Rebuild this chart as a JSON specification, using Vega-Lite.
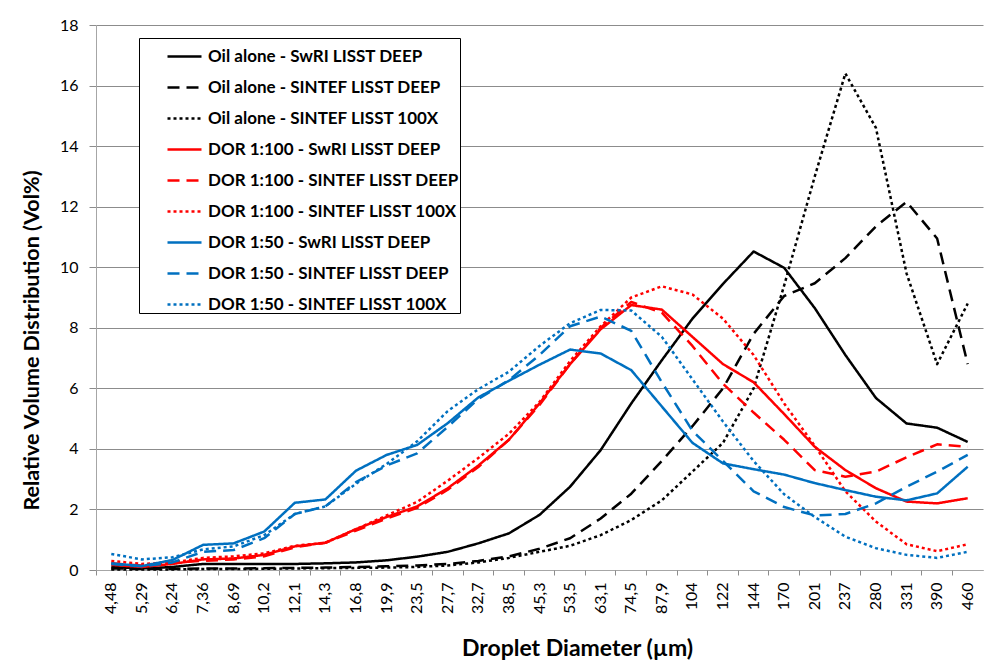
{
 "$schema": "https://vega.github.io/schema/vega-lite/v6.json",
 "width": 887,
 "height": 545,
 "autosize": {"type": "none"},
 "padding": {"left": 96, "top": 25, "right": 25, "bottom": 94},
 "background": "white",
 "config": {"font": "Lato", "view": {"stroke": null}},
 "data": {"values": [
  {"d":"4,48","Oil alone - SwRI LISST DEEP":0.1,"Oil alone - SINTEF LISST DEEP":0.05,"Oil alone - SINTEF LISST 100X":0.02,"DOR 1:100 - SwRI LISST DEEP":0.17,"DOR 1:100 - SINTEF LISST DEEP":0.22,"DOR 1:100 - SINTEF LISST 100X":0.3,"DOR 1:50 - SwRI LISST DEEP":0.22,"DOR 1:50 - SINTEF LISST DEEP":0.2,"DOR 1:50 - SINTEF LISST 100X":0.53},
  {"d":"5,29","Oil alone - SwRI LISST DEEP":0.05,"Oil alone - SINTEF LISST DEEP":0.04,"Oil alone - SINTEF LISST 100X":0.02,"DOR 1:100 - SwRI LISST DEEP":0.1,"DOR 1:100 - SINTEF LISST DEEP":0.15,"DOR 1:100 - SINTEF LISST 100X":0.2,"DOR 1:50 - SwRI LISST DEEP":0.13,"DOR 1:50 - SINTEF LISST DEEP":0.12,"DOR 1:50 - SINTEF LISST 100X":0.35},
  {"d":"6,24","Oil alone - SwRI LISST DEEP":0.1,"Oil alone - SINTEF LISST DEEP":0.04,"Oil alone - SINTEF LISST 100X":0.02,"DOR 1:100 - SwRI LISST DEEP":0.2,"DOR 1:100 - SINTEF LISST DEEP":0.25,"DOR 1:100 - SINTEF LISST 100X":0.25,"DOR 1:50 - SwRI LISST DEEP":0.33,"DOR 1:50 - SINTEF LISST DEEP":0.25,"DOR 1:50 - SINTEF LISST 100X":0.42},
  {"d":"7,36","Oil alone - SwRI LISST DEEP":0.2,"Oil alone - SINTEF LISST DEEP":0.05,"Oil alone - SINTEF LISST 100X":0.03,"DOR 1:100 - SwRI LISST DEEP":0.35,"DOR 1:100 - SINTEF LISST DEEP":0.3,"DOR 1:100 - SINTEF LISST 100X":0.4,"DOR 1:50 - SwRI LISST DEEP":0.83,"DOR 1:50 - SINTEF LISST DEEP":0.6,"DOR 1:50 - SINTEF LISST 100X":0.68},
  {"d":"8,69","Oil alone - SwRI LISST DEEP":0.2,"Oil alone - SINTEF LISST DEEP":0.05,"Oil alone - SINTEF LISST 100X":0.03,"DOR 1:100 - SwRI LISST DEEP":0.38,"DOR 1:100 - SINTEF LISST DEEP":0.35,"DOR 1:100 - SINTEF LISST 100X":0.45,"DOR 1:50 - SwRI LISST DEEP":0.88,"DOR 1:50 - SINTEF LISST DEEP":0.66,"DOR 1:50 - SINTEF LISST 100X":0.78},
  {"d":"10,2","Oil alone - SwRI LISST DEEP":0.2,"Oil alone - SINTEF LISST DEEP":0.06,"Oil alone - SINTEF LISST 100X":0.04,"DOR 1:100 - SwRI LISST DEEP":0.5,"DOR 1:100 - SINTEF LISST DEEP":0.45,"DOR 1:100 - SINTEF LISST 100X":0.55,"DOR 1:50 - SwRI LISST DEEP":1.27,"DOR 1:50 - SINTEF LISST DEEP":1.05,"DOR 1:50 - SINTEF LISST 100X":1.15},
  {"d":"12,1","Oil alone - SwRI LISST DEEP":0.2,"Oil alone - SINTEF LISST DEEP":0.07,"Oil alone - SINTEF LISST 100X":0.05,"DOR 1:100 - SwRI LISST DEEP":0.78,"DOR 1:100 - SINTEF LISST DEEP":0.75,"DOR 1:100 - SINTEF LISST 100X":0.8,"DOR 1:50 - SwRI LISST DEEP":2.22,"DOR 1:50 - SINTEF LISST DEEP":1.85,"DOR 1:50 - SINTEF LISST 100X":1.85},
  {"d":"14,3","Oil alone - SwRI LISST DEEP":0.22,"Oil alone - SINTEF LISST DEEP":0.08,"Oil alone - SINTEF LISST 100X":0.06,"DOR 1:100 - SwRI LISST DEEP":0.9,"DOR 1:100 - SINTEF LISST DEEP":0.9,"DOR 1:100 - SINTEF LISST 100X":0.9,"DOR 1:50 - SwRI LISST DEEP":2.33,"DOR 1:50 - SINTEF LISST DEEP":2.1,"DOR 1:50 - SINTEF LISST 100X":2.1},
  {"d":"16,8","Oil alone - SwRI LISST DEEP":0.25,"Oil alone - SINTEF LISST DEEP":0.1,"Oil alone - SINTEF LISST 100X":0.07,"DOR 1:100 - SwRI LISST DEEP":1.35,"DOR 1:100 - SINTEF LISST DEEP":1.3,"DOR 1:100 - SINTEF LISST 100X":1.35,"DOR 1:50 - SwRI LISST DEEP":3.28,"DOR 1:50 - SINTEF LISST DEEP":2.9,"DOR 1:50 - SINTEF LISST 100X":2.85},
  {"d":"19,9","Oil alone - SwRI LISST DEEP":0.32,"Oil alone - SINTEF LISST DEEP":0.12,"Oil alone - SINTEF LISST 100X":0.08,"DOR 1:100 - SwRI LISST DEEP":1.75,"DOR 1:100 - SINTEF LISST DEEP":1.7,"DOR 1:100 - SINTEF LISST 100X":1.8,"DOR 1:50 - SwRI LISST DEEP":3.8,"DOR 1:50 - SINTEF LISST DEEP":3.45,"DOR 1:50 - SINTEF LISST 100X":3.5},
  {"d":"23,5","Oil alone - SwRI LISST DEEP":0.44,"Oil alone - SINTEF LISST DEEP":0.15,"Oil alone - SINTEF LISST 100X":0.1,"DOR 1:100 - SwRI LISST DEEP":2.1,"DOR 1:100 - SINTEF LISST DEEP":2.05,"DOR 1:100 - SINTEF LISST 100X":2.25,"DOR 1:50 - SwRI LISST DEEP":4.13,"DOR 1:50 - SINTEF LISST DEEP":3.85,"DOR 1:50 - SINTEF LISST 100X":4.25},
  {"d":"27,7","Oil alone - SwRI LISST DEEP":0.6,"Oil alone - SINTEF LISST DEEP":0.2,"Oil alone - SINTEF LISST 100X":0.15,"DOR 1:100 - SwRI LISST DEEP":2.7,"DOR 1:100 - SINTEF LISST DEEP":2.65,"DOR 1:100 - SINTEF LISST 100X":2.95,"DOR 1:50 - SwRI LISST DEEP":4.85,"DOR 1:50 - SINTEF LISST DEEP":4.73,"DOR 1:50 - SINTEF LISST 100X":5.25},
  {"d":"32,7","Oil alone - SwRI LISST DEEP":0.88,"Oil alone - SINTEF LISST DEEP":0.3,"Oil alone - SINTEF LISST 100X":0.25,"DOR 1:100 - SwRI LISST DEEP":3.45,"DOR 1:100 - SINTEF LISST DEEP":3.4,"DOR 1:100 - SINTEF LISST 100X":3.7,"DOR 1:50 - SwRI LISST DEEP":5.7,"DOR 1:50 - SINTEF LISST DEEP":5.65,"DOR 1:50 - SINTEF LISST 100X":5.97},
  {"d":"38,5","Oil alone - SwRI LISST DEEP":1.21,"Oil alone - SINTEF LISST DEEP":0.45,"Oil alone - SINTEF LISST 100X":0.4,"DOR 1:100 - SwRI LISST DEEP":4.3,"DOR 1:100 - SINTEF LISST DEEP":4.3,"DOR 1:100 - SINTEF LISST 100X":4.5,"DOR 1:50 - SwRI LISST DEEP":6.25,"DOR 1:50 - SINTEF LISST DEEP":6.27,"DOR 1:50 - SINTEF LISST 100X":6.55},
  {"d":"45,3","Oil alone - SwRI LISST DEEP":1.82,"Oil alone - SINTEF LISST DEEP":0.7,"Oil alone - SINTEF LISST 100X":0.6,"DOR 1:100 - SwRI LISST DEEP":5.5,"DOR 1:100 - SINTEF LISST DEEP":5.45,"DOR 1:100 - SINTEF LISST 100X":5.55,"DOR 1:50 - SwRI LISST DEEP":6.78,"DOR 1:50 - SINTEF LISST DEEP":7.1,"DOR 1:50 - SINTEF LISST 100X":7.4},
  {"d":"53,5","Oil alone - SwRI LISST DEEP":2.75,"Oil alone - SINTEF LISST DEEP":1.05,"Oil alone - SINTEF LISST 100X":0.8,"DOR 1:100 - SwRI LISST DEEP":6.8,"DOR 1:100 - SINTEF LISST DEEP":6.8,"DOR 1:100 - SINTEF LISST 100X":6.9,"DOR 1:50 - SwRI LISST DEEP":7.28,"DOR 1:50 - SINTEF LISST DEEP":8.05,"DOR 1:50 - SINTEF LISST 100X":8.15},
  {"d":"63,1","Oil alone - SwRI LISST DEEP":3.96,"Oil alone - SINTEF LISST DEEP":1.7,"Oil alone - SINTEF LISST 100X":1.15,"DOR 1:100 - SwRI LISST DEEP":7.95,"DOR 1:100 - SINTEF LISST DEEP":8.0,"DOR 1:100 - SINTEF LISST 100X":8.05,"DOR 1:50 - SwRI LISST DEEP":7.15,"DOR 1:50 - SINTEF LISST DEEP":8.37,"DOR 1:50 - SINTEF LISST 100X":8.59},
  {"d":"74,5","Oil alone - SwRI LISST DEEP":5.5,"Oil alone - SINTEF LISST DEEP":2.52,"Oil alone - SINTEF LISST 100X":1.65,"DOR 1:100 - SwRI LISST DEEP":8.75,"DOR 1:100 - SINTEF LISST DEEP":8.85,"DOR 1:100 - SINTEF LISST 100X":9.0,"DOR 1:50 - SwRI LISST DEEP":6.6,"DOR 1:50 - SINTEF LISST DEEP":7.9,"DOR 1:50 - SINTEF LISST 100X":8.57},
  {"d":"87,9","Oil alone - SwRI LISST DEEP":6.93,"Oil alone - SINTEF LISST DEEP":3.6,"Oil alone - SINTEF LISST 100X":2.3,"DOR 1:100 - SwRI LISST DEEP":8.6,"DOR 1:100 - SINTEF LISST DEEP":8.5,"DOR 1:100 - SINTEF LISST 100X":9.37,"DOR 1:50 - SwRI LISST DEEP":5.4,"DOR 1:50 - SINTEF LISST DEEP":6.2,"DOR 1:50 - SINTEF LISST 100X":7.7},
  {"d":"104","Oil alone - SwRI LISST DEEP":8.3,"Oil alone - SINTEF LISST DEEP":4.75,"Oil alone - SINTEF LISST 100X":3.25,"DOR 1:100 - SwRI LISST DEEP":7.7,"DOR 1:100 - SINTEF LISST DEEP":7.4,"DOR 1:100 - SINTEF LISST 100X":9.1,"DOR 1:50 - SwRI LISST DEEP":4.2,"DOR 1:50 - SINTEF LISST DEEP":4.6,"DOR 1:50 - SINTEF LISST 100X":6.3},
  {"d":"122","Oil alone - SwRI LISST DEEP":9.45,"Oil alone - SINTEF LISST DEEP":6.0,"Oil alone - SINTEF LISST 100X":4.2,"DOR 1:100 - SwRI LISST DEEP":6.8,"DOR 1:100 - SINTEF LISST DEEP":6.15,"DOR 1:100 - SINTEF LISST 100X":8.3,"DOR 1:50 - SwRI LISST DEEP":3.52,"DOR 1:50 - SINTEF LISST DEEP":3.6,"DOR 1:50 - SINTEF LISST 100X":4.9},
  {"d":"144","Oil alone - SwRI LISST DEEP":10.52,"Oil alone - SINTEF LISST DEEP":7.8,"Oil alone - SINTEF LISST 100X":6.0,"DOR 1:100 - SwRI LISST DEEP":6.2,"DOR 1:100 - SINTEF LISST DEEP":5.2,"DOR 1:100 - SINTEF LISST 100X":7.1,"DOR 1:50 - SwRI LISST DEEP":3.33,"DOR 1:50 - SINTEF LISST DEEP":2.6,"DOR 1:50 - SINTEF LISST 100X":3.6},
  {"d":"170","Oil alone - SwRI LISST DEEP":9.98,"Oil alone - SINTEF LISST DEEP":9.05,"Oil alone - SINTEF LISST 100X":9.4,"DOR 1:100 - SwRI LISST DEEP":5.15,"DOR 1:100 - SINTEF LISST DEEP":4.3,"DOR 1:100 - SINTEF LISST 100X":5.5,"DOR 1:50 - SwRI LISST DEEP":3.15,"DOR 1:50 - SINTEF LISST DEEP":2.08,"DOR 1:50 - SINTEF LISST 100X":2.5},
  {"d":"201","Oil alone - SwRI LISST DEEP":8.65,"Oil alone - SINTEF LISST DEEP":9.47,"Oil alone - SINTEF LISST 100X":13.0,"DOR 1:100 - SwRI LISST DEEP":4.07,"DOR 1:100 - SINTEF LISST DEEP":3.3,"DOR 1:100 - SINTEF LISST 100X":4.1,"DOR 1:50 - SwRI LISST DEEP":2.87,"DOR 1:50 - SINTEF LISST DEEP":1.8,"DOR 1:50 - SINTEF LISST 100X":1.75},
  {"d":"237","Oil alone - SwRI LISST DEEP":7.1,"Oil alone - SINTEF LISST DEEP":10.3,"Oil alone - SINTEF LISST 100X":16.4,"DOR 1:100 - SwRI LISST DEEP":3.3,"DOR 1:100 - SINTEF LISST DEEP":3.08,"DOR 1:100 - SINTEF LISST 100X":2.6,"DOR 1:50 - SwRI LISST DEEP":2.64,"DOR 1:50 - SINTEF LISST DEEP":1.85,"DOR 1:50 - SINTEF LISST 100X":1.1},
  {"d":"280","Oil alone - SwRI LISST DEEP":5.68,"Oil alone - SINTEF LISST DEEP":11.35,"Oil alone - SINTEF LISST 100X":14.6,"DOR 1:100 - SwRI LISST DEEP":2.7,"DOR 1:100 - SINTEF LISST DEEP":3.25,"DOR 1:100 - SINTEF LISST 100X":1.6,"DOR 1:50 - SwRI LISST DEEP":2.42,"DOR 1:50 - SINTEF LISST DEEP":2.2,"DOR 1:50 - SINTEF LISST 100X":0.72},
  {"d":"331","Oil alone - SwRI LISST DEEP":4.84,"Oil alone - SINTEF LISST DEEP":12.16,"Oil alone - SINTEF LISST 100X":9.8,"DOR 1:100 - SwRI LISST DEEP":2.26,"DOR 1:100 - SINTEF LISST DEEP":3.72,"DOR 1:100 - SINTEF LISST 100X":0.85,"DOR 1:50 - SwRI LISST DEEP":2.3,"DOR 1:50 - SINTEF LISST DEEP":2.75,"DOR 1:50 - SINTEF LISST 100X":0.5},
  {"d":"390","Oil alone - SwRI LISST DEEP":4.7,"Oil alone - SINTEF LISST DEEP":10.95,"Oil alone - SINTEF LISST 100X":6.8,"DOR 1:100 - SwRI LISST DEEP":2.2,"DOR 1:100 - SINTEF LISST DEEP":4.15,"DOR 1:100 - SINTEF LISST 100X":0.62,"DOR 1:50 - SwRI LISST DEEP":2.53,"DOR 1:50 - SINTEF LISST DEEP":3.25,"DOR 1:50 - SINTEF LISST 100X":0.4},
  {"d":"460","Oil alone - SwRI LISST DEEP":4.23,"Oil alone - SINTEF LISST DEEP":6.8,"Oil alone - SINTEF LISST 100X":8.8,"DOR 1:100 - SwRI LISST DEEP":2.37,"DOR 1:100 - SINTEF LISST DEEP":4.07,"DOR 1:100 - SINTEF LISST 100X":0.85,"DOR 1:50 - SwRI LISST DEEP":3.41,"DOR 1:50 - SINTEF LISST DEEP":3.8,"DOR 1:50 - SINTEF LISST 100X":0.6}
 ]},
 "transform": [
  {"fold": ["Oil alone - SwRI LISST DEEP","Oil alone - SINTEF LISST DEEP","Oil alone - SINTEF LISST 100X","DOR 1:100 - SwRI LISST DEEP","DOR 1:100 - SINTEF LISST DEEP","DOR 1:100 - SINTEF LISST 100X","DOR 1:50 - SwRI LISST DEEP","DOR 1:50 - SINTEF LISST DEEP","DOR 1:50 - SINTEF LISST 100X"], "as": ["series", "v"]}
 ],
 "layer": [
  {
   "mark": {"type": "line", "strokeWidth": 2.5, "strokeCap": "butt", "strokeJoin": "round"},
   "encoding": {
    "x": {"field": "d", "type": "ordinal", "sort": null, "bandPosition": 0.5,
      "scale": {"type": "band", "paddingInner": 0, "paddingOuter": 0},
      "axis": {"title": "Droplet Diameter (µm)", "labelAngle": -90, "labelFontSize": 16, "labelColor": "black", "labelPadding": 12, "ticks": false, "tickSize": 0, "domainColor": "#A6A6A6", "domainWidth": 1, "grid": false, "titleFontSize": 23, "titleFontWeight": "bold", "titleColor": "black", "titleX": 481, "titleY": 85, "titleBaseline": "alphabetic", "titleAlign": "center"}},
    "y": {"field": "v", "type": "quantitative",
      "scale": {"domain": [0, 18], "nice": false},
      "axis": {"values": [0, 2, 4, 6, 8, 10, 12, 14, 16, 18], "title": "Relative Volume Distribution (Vol%)", "titleFontSize": 21.5, "titleFontWeight": "bold", "titleColor": "black", "titleX": -64, "titleY": 315, "titleAngle": -90, "titleAlign": "center", "titleBaseline": "middle", "labelFontSize": 16, "labelColor": "black", "labelPadding": 11, "tickSize": 7, "tickColor": "#8C8C8C", "domainColor": "#A6A6A6", "grid": true, "gridColor": "#8C8C8C", "gridWidth": 1}},
    "color": {"field": "series", "type": "nominal",
      "scale": {"domain": ["Oil alone - SwRI LISST DEEP","Oil alone - SINTEF LISST DEEP","Oil alone - SINTEF LISST 100X","DOR 1:100 - SwRI LISST DEEP","DOR 1:100 - SINTEF LISST DEEP","DOR 1:100 - SINTEF LISST 100X","DOR 1:50 - SwRI LISST DEEP","DOR 1:50 - SINTEF LISST DEEP","DOR 1:50 - SINTEF LISST 100X"],
        "range": ["#000000","#000000","#000000","#FF0000","#FF0000","#FF0000","#0070C0","#0070C0","#0070C0"]},
      "legend": {"orient": "none", "legendX": 43, "legendY": 13, "title": null, "symbolType": "stroke", "symbolSize": 1156, "symbolStrokeWidth": 2.5, "labelFontSize": 17, "labelFontWeight": "bold", "labelColor": "black", "strokeColor": "black", "fillColor": "white", "padding": 0, "rowPadding": 4, "symbolOffset": 27, "labelOffset": 5, "labelLimit": 400}},
    "strokeDash": {"field": "series", "type": "nominal",
      "scale": {"domain": ["Oil alone - SwRI LISST DEEP","Oil alone - SINTEF LISST DEEP","Oil alone - SINTEF LISST 100X","DOR 1:100 - SwRI LISST DEEP","DOR 1:100 - SINTEF LISST DEEP","DOR 1:100 - SINTEF LISST 100X","DOR 1:50 - SwRI LISST DEEP","DOR 1:50 - SINTEF LISST DEEP","DOR 1:50 - SINTEF LISST 100X"],
        "range": [[1,0],[12,7],[3,3],[1,0],[12,7],[3,3],[1,0],[12,7],[3,3]]},
      "legend": {"orient": "none", "legendX": 43, "legendY": 13, "title": null, "symbolType": "stroke", "symbolSize": 1156, "symbolStrokeWidth": 2.5, "labelFontSize": 17, "labelFontWeight": "bold", "labelColor": "black", "strokeColor": "black", "fillColor": "white", "padding": 0, "rowPadding": 4, "symbolOffset": 27, "labelOffset": 5, "labelLimit": 400}}
   }
  },
  {
   "mark": {"type": "line", "strokeOpacity": 0},
   "encoding": {
    "x": {"field": "d", "type": "ordinal", "sort": null,
      "scale": {"type": "band", "paddingInner": 0, "paddingOuter": 0},
      "axis": {"orient": "bottom", "bandPosition": 0, "labels": false, "ticks": true, "tickSize": 5, "tickColor": "#8C8C8C", "domain": false, "grid": false, "title": null}},
    "y": {"field": "v", "type": "quantitative"},
    "detail": {"field": "series"}
   }
  }
 ],
 "resolve": {"axis": {"x": "independent"}}
}
